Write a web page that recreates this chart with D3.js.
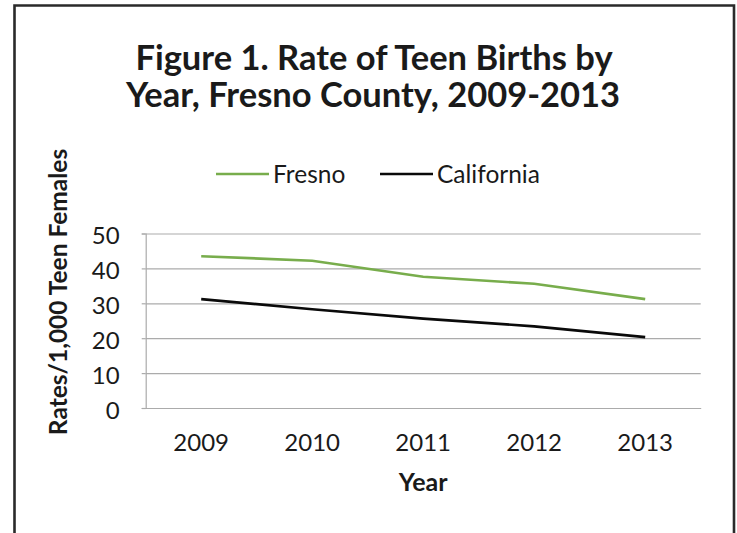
<!DOCTYPE html>
<html>
<head>
<meta charset="utf-8">
<script src="https://cdn.jsdelivr.net/npm/d3@7"></script>
<style>
  body { margin: 0; background: #fff; }
  text { font-family: Lato, "Open Sans", sans-serif; fill: #1a1a1a; }
</style>
</head>
<body>
<div id="chart"></div>
<script>
// chart data
var years = ["2009", "2010", "2011", "2012", "2013"];
var fresno = [43.5, 42.2, 37.6, 35.6, 31.2];
var california = [31.2, 28.3, 25.6, 23.4, 20.3];
var yTicks = [0, 10, 20, 30, 40, 50];
var seriesNames = ["Fresno", "California"];

var svgWidth = 737;
var svgHeight = 533;

var margin = {
  top: 233.5,
  right: 36.3,
  bottom: 125,
  left: 145.7
};

var width = svgWidth - margin.left - margin.right;
var height = svgHeight - margin.top - margin.bottom;

var svg = d3.select("#chart")
  .append("svg")
  .attr("width", svgWidth)
  .attr("height", svgHeight);

// outer frame
svg.append("path")
  .attr("d", "M14.5,560 V5.5 H734 V560")
  .attr("fill", "none")
  .attr("stroke", "#2a2a2a")
  .attr("stroke-width", 2.6);

// title
var title = svg.append("text")
  .attr("text-anchor", "middle")
  .attr("font-weight", "bold")
  .attr("font-size", "34.5px");
title.append("tspan").attr("x", 374).attr("y", 70).text("Figure 1. Rate of Teen Births by");
title.append("tspan").attr("x", 373).attr("y", 107).text("Year, Fresno County, 2009-2013");

var chartGroup = svg.append("g")
  .attr("transform", `translate(${margin.left}, ${margin.top})`);

// scales
var xScale = d3.scaleBand()
  .domain(years)
  .range([0, width]);

var yScale = d3.scaleLinear()
  .domain([0, 50])
  .range([height, 0]);

// gridlines
chartGroup.append("g")
  .call(d3.axisLeft(yScale).tickValues(yTicks).tickSize(-width).tickFormat(""))
  .call(g => g.select(".domain").remove())
  .selectAll("line")
  .attr("stroke", "#ababab")
  .attr("stroke-width", 1.2);

// y axis
var leftAxis = d3.axisLeft(yScale)
  .tickValues(yTicks)
  .tickSize(4)
  .tickPadding(22);

chartGroup.append("g")
  .call(leftAxis)
  .call(g => g.select(".domain").attr("stroke", "#ababab").attr("stroke-width", 1.2))
  .call(g => g.selectAll(".tick line").attr("stroke", "#ababab").attr("stroke-width", 1.2))
  .call(g => g.selectAll(".tick text")
    .attr("font-family", "Lato, sans-serif")
    .attr("font-size", "24px")
    .attr("fill", "#1a1a1a")
    .attr("dy", "0.42em"));

// x axis
var bottomAxis = d3.axisBottom(xScale)
  .tickSize(0)
  .tickPadding(26);

chartGroup.append("g")
  .attr("transform", `translate(0, ${height})`)
  .call(bottomAxis)
  .call(g => g.select(".domain").attr("stroke", "#ababab").attr("stroke-width", 1.2))
  .call(g => g.selectAll(".tick text")
    .attr("font-family", "Lato, sans-serif")
    .attr("font-size", "24px")
    .attr("fill", "#1a1a1a"));

// lines
var line = d3.line()
  .x((d, i) => xScale(years[i]) + xScale.bandwidth() / 2)
  .y(d => yScale(d));

chartGroup.append("path")
  .datum(california)
  .attr("d", line)
  .attr("fill", "none")
  .attr("stroke", "#0a0a0a")
  .attr("stroke-width", 2.6);

chartGroup.append("path")
  .datum(fresno)
  .attr("d", line)
  .attr("fill", "none")
  .attr("stroke", "#78ad4c")
  .attr("stroke-width", 2.6);

// axis titles
svg.append("text")
  .attr("x", margin.left + width / 2)
  .attr("y", 491)
  .attr("text-anchor", "middle")
  .attr("font-weight", "bold")
  .attr("font-size", "25px")
  .text("Year");

svg.append("text")
  .attr("transform", "translate(67, 292) rotate(-90)")
  .attr("text-anchor", "middle")
  .attr("font-weight", "bold")
  .attr("font-size", "24.5px")
  .text("Rates/1,000 Teen Females");

// legend
var legendColors = ["#78ad4c", "#0a0a0a"];
var legendX = [216, 380];

var legend = svg.selectAll(".legend")
  .data(seriesNames)
  .enter()
  .append("g")
  .attr("class", "legend")
  .attr("transform", (d, i) => `translate(${legendX[i]}, 174)`);

legend.append("line")
  .attr("x1", 0)
  .attr("x2", 53)
  .attr("stroke", (d, i) => legendColors[i])
  .attr("stroke-width", 2.6);

legend.append("text")
  .attr("x", 57)
  .attr("y", 9)
  .attr("font-size", "24.5px")
  .text(d => d);
</script>
</body>
</html>
